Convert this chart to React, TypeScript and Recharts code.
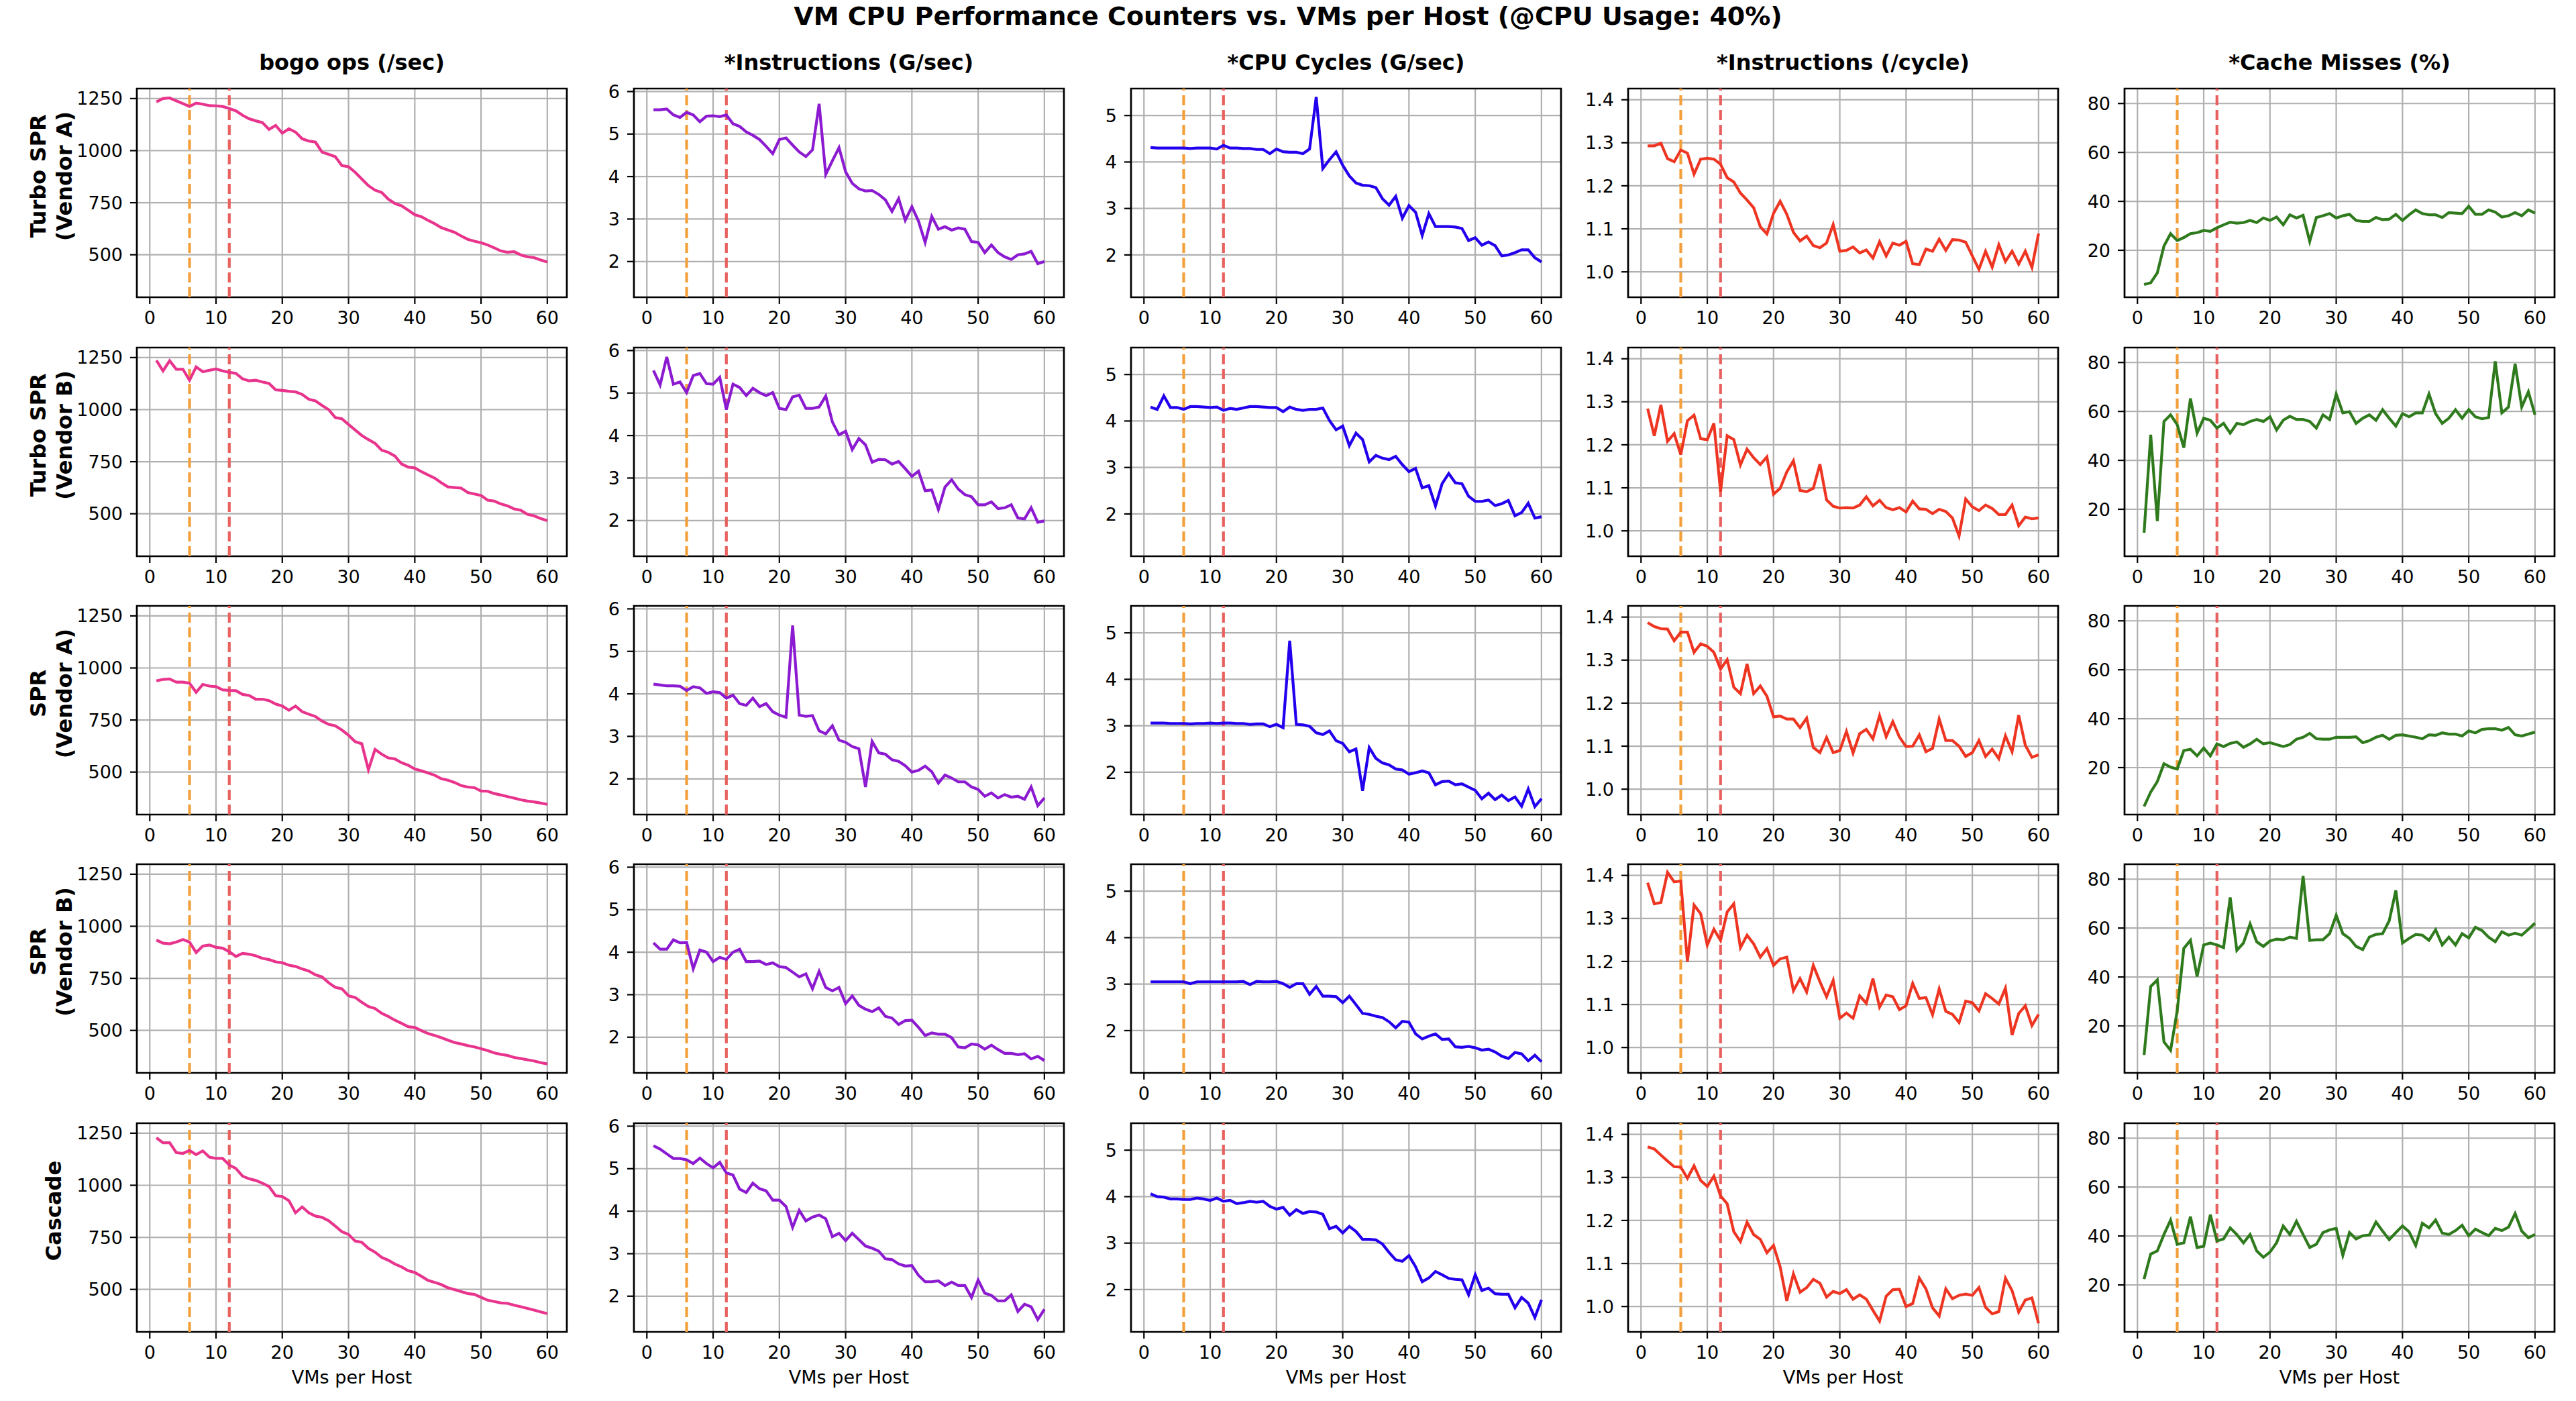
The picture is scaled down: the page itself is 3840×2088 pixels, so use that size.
import React from "react";
import {
  LineChart,
  Line,
  XAxis,
  YAxis,
  CartesianGrid,
  ReferenceLine,
  ReferenceArea,
} from "recharts";

// x axis: number of VMs per host
const VMS_PER_HOST = [
  1, 2, 3, 4, 5, 6, 7, 8, 9, 10, 11, 12, 13, 14, 15, 16, 17, 18, 19, 20,
  21, 22, 23, 24, 25, 26, 27, 28, 29, 30, 31, 32, 33, 34, 35, 36, 37, 38, 39, 40,
  41, 42, 43, 44, 45, 46, 47, 48, 49, 50, 51, 52, 53, 54, 55, 56, 57, 58, 59, 60,
];

// Turbo SPR (Vendor A)
const TSPR_A_BOGO = [
  1234, 1250, 1253, 1239, 1226, 1212, 1228, 1223, 1216, 1215,
  1212, 1202, 1191, 1170, 1153, 1143, 1135, 1102, 1121, 1084,
  1105, 1089, 1057, 1046, 1041, 993, 982, 971, 928, 923,
  896, 864, 832, 810, 799, 767, 746, 735, 714, 692,
  683, 665, 649, 630, 619, 608, 590, 574, 565, 558,
  547, 533, 518, 512, 515, 499, 490, 486, 475, 465,
];
const TSPR_A_INSTR = [
  5.57, 5.57, 5.59, 5.45, 5.39, 5.51, 5.45, 5.29, 5.42, 5.43,
  5.41, 5.45, 5.24, 5.18, 5.05, 4.97, 4.87, 4.71, 4.54, 4.87,
  4.91, 4.74, 4.58, 4.47, 4.63, 5.71, 4.05, 4.37, 4.68, 4.11,
  3.84, 3.71, 3.66, 3.67, 3.58, 3.45, 3.18, 3.48, 2.97, 3.29,
  2.95, 2.45, 3.06, 2.76, 2.82, 2.74, 2.79, 2.76, 2.47, 2.45,
  2.21, 2.39, 2.21, 2.11, 2.05, 2.16, 2.18, 2.24, 1.95, 2.0,
];
const TSPR_A_CYCLES = [
  4.31, 4.3, 4.3, 4.3, 4.3, 4.3, 4.29, 4.3, 4.3, 4.3,
  4.28, 4.36, 4.3, 4.3, 4.29, 4.29, 4.27, 4.27, 4.18, 4.28,
  4.22, 4.21, 4.21, 4.18, 4.28, 5.4, 3.86, 4.05, 4.22, 3.93,
  3.7, 3.55, 3.5, 3.49, 3.45, 3.21, 3.07, 3.26, 2.79, 3.06,
  2.92, 2.42, 2.89, 2.61, 2.61, 2.61, 2.6, 2.57, 2.31, 2.37,
  2.21, 2.28, 2.2, 1.98, 2.0, 2.05, 2.11, 2.11, 1.94, 1.85,
];
const TSPR_A_IPC = [
  1.293, 1.293, 1.299, 1.263, 1.256, 1.283, 1.276, 1.227, 1.262, 1.264,
  1.262, 1.25, 1.219, 1.209, 1.183, 1.167, 1.149, 1.105, 1.088, 1.136,
  1.164, 1.134, 1.092, 1.072, 1.083, 1.061, 1.056, 1.067, 1.11, 1.048,
  1.05, 1.058, 1.044, 1.051, 1.032, 1.07, 1.037, 1.067, 1.062, 1.071,
  1.019, 1.017, 1.053, 1.048, 1.076, 1.05, 1.075, 1.074, 1.069, 1.037,
  1.006, 1.048, 1.011, 1.063, 1.024, 1.048, 1.018, 1.048, 1.01, 1.089,
];
const TSPR_A_CACHE = [
  6.0, 6.7, 10.8, 21.7, 26.8, 24.0, 25.2, 26.8, 27.2, 28.1,
  27.7, 29.2, 30.4, 31.5, 31.1, 31.3, 32.2, 31.3, 33.2, 32.2,
  33.6, 30.4, 34.5, 33.2, 34.3, 23.6, 33.4, 34.1, 35.0, 33.2,
  34.1, 34.7, 32.2, 31.8, 31.8, 33.4, 32.5, 32.7, 34.7, 32.2,
  34.5, 36.5, 35.0, 34.5, 34.5, 33.4, 35.4, 35.2, 35.0, 38.0,
  34.7, 34.7, 36.5, 35.6, 33.6, 34.1, 35.4, 34.1, 36.5, 35.2,
];

// Turbo SPR (Vendor B)
const TSPR_B_BOGO = [
  1236, 1186, 1235, 1194, 1194, 1141, 1205, 1182, 1189, 1195,
  1186, 1179, 1174, 1148, 1138, 1141, 1133, 1126, 1095, 1092,
  1088, 1085, 1073, 1050, 1042, 1020, 1000, 962, 956, 929,
  902, 876, 856, 838, 805, 795, 777, 739, 724, 720,
  702, 686, 671, 649, 629, 626, 623, 602, 595, 588,
  565, 561, 547, 538, 523, 517, 497, 490, 477, 467,
];
const TSPR_B_INSTR = [
  5.53, 5.19, 5.85, 5.21, 5.26, 5.01, 5.41, 5.46, 5.22, 5.21,
  5.37, 4.61, 5.21, 5.13, 4.94, 5.11, 5.01, 4.94, 5.01, 4.64,
  4.61, 4.91, 4.95, 4.64, 4.64, 4.67, 4.93, 4.32, 4.02, 4.1,
  3.67, 3.93, 3.78, 3.37, 3.44, 3.43, 3.33, 3.39, 3.22, 3.04,
  3.16, 2.7, 2.72, 2.26, 2.79, 2.96, 2.74, 2.61, 2.56, 2.37,
  2.37, 2.44, 2.28, 2.3, 2.37, 2.06, 2.04, 2.3, 1.96, 1.99,
];
const TSPR_B_CYCLES = [
  4.3, 4.25, 4.54, 4.29, 4.29, 4.25, 4.31, 4.31, 4.3, 4.29,
  4.3, 4.23, 4.27, 4.25, 4.28, 4.31, 4.31, 4.3, 4.29, 4.29,
  4.2, 4.3, 4.25, 4.23, 4.25, 4.25, 4.28, 4.01, 3.81, 3.89,
  3.47, 3.74, 3.6, 3.12, 3.26, 3.2, 3.17, 3.24, 3.06, 2.91,
  2.98, 2.56, 2.61, 2.17, 2.65, 2.87, 2.67, 2.65, 2.38, 2.27,
  2.27, 2.3, 2.18, 2.22, 2.29, 1.96, 2.03, 2.23, 1.91, 1.94,
];
const TSPR_B_IPC = [
  1.284, 1.221, 1.293, 1.208, 1.226, 1.177, 1.256, 1.269, 1.214, 1.212,
  1.25, 1.091, 1.221, 1.212, 1.153, 1.19, 1.17, 1.154, 1.172, 1.085,
  1.099, 1.137, 1.163, 1.094, 1.091, 1.099, 1.155, 1.072, 1.057, 1.053,
  1.054, 1.053, 1.06, 1.079, 1.058, 1.071, 1.054, 1.049, 1.054, 1.044,
  1.069, 1.051, 1.05, 1.04, 1.05, 1.045, 1.03, 0.988, 1.074, 1.056,
  1.047, 1.06, 1.052, 1.038, 1.038, 1.06, 1.012, 1.032, 1.028, 1.03,
];
const TSPR_B_CACHE = [
  10.4, 50.5, 15.2, 55.9, 58.6, 54.6, 45.2, 65.3, 51.1, 57.2,
  56.4, 53.2, 55.1, 51.1, 55.1, 54.6, 55.9, 56.7, 55.9, 57.8,
  52.4, 56.4, 58.0, 56.7, 56.7, 55.9, 53.2, 58.6, 56.7, 67.1,
  59.4, 59.9, 55.1, 57.2, 58.6, 56.4, 60.7, 57.2, 54.0, 59.1,
  57.8, 59.4, 59.4, 67.1, 59.1, 55.1, 57.2, 60.7, 57.2, 60.7,
  57.8, 57.0, 57.5, 80.5, 59.4, 61.8, 79.5, 61.8, 68.0, 58.6,
];

// SPR (Vendor A)
const SPR_A_BOGO = [
  938, 945, 947, 932, 932, 927, 883, 921, 913, 910,
  895, 892, 891, 873, 868, 850, 850, 843, 827, 817,
  797, 817, 790, 778, 767, 745, 729, 722, 702, 677,
  646, 636, 511, 609, 586, 568, 563, 545, 533, 515,
  506, 496, 485, 468, 461, 450, 435, 428, 425, 409,
  408, 397, 390, 382, 375, 367, 361, 357, 351, 345,
];
const SPR_A_INSTR = [
  4.23, 4.21, 4.19, 4.19, 4.18, 4.08, 4.17, 4.14, 4.01, 4.05,
  4.03, 3.9, 3.97, 3.77, 3.73, 3.9, 3.7, 3.77, 3.58, 3.5,
  3.45, 5.61, 3.5, 3.47, 3.49, 3.13, 3.06, 3.25, 2.91, 2.86,
  2.76, 2.71, 1.81, 2.88, 2.61, 2.58, 2.45, 2.41, 2.31, 2.16,
  2.2, 2.3, 2.17, 1.9, 2.09, 2.02, 1.93, 1.93, 1.81, 1.75,
  1.59, 1.67, 1.55, 1.63, 1.57, 1.59, 1.52, 1.81, 1.37, 1.55,
];
const SPR_A_CYCLES = [
  3.06, 3.06, 3.06, 3.05, 3.05, 3.05, 3.04, 3.05, 3.05, 3.06,
  3.05, 3.06, 3.06, 3.05, 3.05, 3.03, 3.04, 3.04, 2.98, 3.03,
  2.96, 4.83, 3.03, 3.02, 2.99, 2.85, 2.81, 2.89, 2.68, 2.62,
  2.44, 2.5, 1.6, 2.53, 2.3, 2.2, 2.16, 2.07, 2.05, 1.96,
  1.99, 2.03, 1.99, 1.73, 1.8, 1.81, 1.73, 1.75, 1.68, 1.61,
  1.43, 1.55, 1.41, 1.51, 1.39, 1.47, 1.27, 1.64, 1.26, 1.43,
];
const SPR_A_IPC = [
  1.387, 1.378, 1.373, 1.372, 1.345, 1.365, 1.365, 1.318, 1.338, 1.332,
  1.318, 1.279, 1.301, 1.237, 1.222, 1.291, 1.222, 1.24, 1.216, 1.168,
  1.17, 1.163, 1.163, 1.143, 1.165, 1.097, 1.085, 1.12, 1.085, 1.09,
  1.134, 1.084, 1.129, 1.139, 1.117, 1.171, 1.122, 1.157, 1.121, 1.099,
  1.1, 1.126, 1.087, 1.095, 1.163, 1.113, 1.113, 1.1, 1.076, 1.085,
  1.113, 1.076, 1.093, 1.071, 1.124, 1.087, 1.172, 1.102, 1.074, 1.08,
];
const SPR_A_CACHE = [
  4.1, 10.0, 14.3, 21.6, 20.2, 19.4, 27.0, 27.5, 24.8, 28.0,
  24.8, 29.7, 28.6, 29.9, 30.5, 28.3, 29.7, 31.6, 29.7, 30.2,
  29.4, 28.6, 29.4, 31.6, 32.4, 34.0, 31.8, 31.6, 31.6, 32.4,
  32.4, 32.4, 32.6, 30.2, 31.0, 32.4, 33.2, 31.6, 33.2, 33.4,
  32.9, 32.4, 31.8, 33.4, 33.2, 34.2, 33.7, 33.7, 32.9, 35.0,
  34.2, 35.6, 35.9, 35.9, 35.3, 36.4, 33.4, 32.9, 33.7, 34.5,
];

// SPR (Vendor B)
const SPR_B_BOGO = [
  934, 919, 916, 924, 936, 924, 874, 905, 910, 899,
  895, 878, 855, 870, 866, 858, 846, 840, 829, 825,
  813, 807, 795, 785, 767, 757, 729, 707, 700, 666,
  658, 635, 615, 605, 582, 567, 549, 534, 518, 514,
  499, 485, 476, 465, 453, 442, 435, 427, 421, 412,
  403, 392, 385, 380, 370, 365, 359, 353, 345, 339,
];
const SPR_B_INSTR = [
  4.22, 4.07, 4.07, 4.29, 4.22, 4.23, 3.61, 4.05, 4.0, 3.78,
  3.88, 3.83, 4.0, 4.07, 3.78, 3.78, 3.79, 3.71, 3.75, 3.66,
  3.64, 3.53, 3.42, 3.49, 3.14, 3.55, 3.17, 3.09, 3.17, 2.79,
  2.97, 2.75, 2.66, 2.6, 2.69, 2.49, 2.45, 2.3, 2.39, 2.4,
  2.23, 2.04, 2.1, 2.07, 2.07, 1.99, 1.77, 1.75, 1.84, 1.82,
  1.72, 1.81, 1.71, 1.62, 1.62, 1.59, 1.61, 1.49, 1.55, 1.45,
];
const SPR_B_CYCLES = [
  3.05, 3.05, 3.05, 3.05, 3.05, 3.05, 3.01, 3.05, 3.05, 3.05,
  3.05, 3.05, 3.05, 3.05, 3.06, 2.99, 3.06, 3.05, 3.05, 3.06,
  3.01, 2.93, 3.01, 3.01, 2.78, 2.95, 2.74, 2.74, 2.73, 2.6,
  2.74, 2.56, 2.37, 2.35, 2.31, 2.28, 2.19, 2.06, 2.2, 2.18,
  1.93, 1.82, 1.88, 1.93, 1.81, 1.82, 1.65, 1.64, 1.66, 1.63,
  1.58, 1.6, 1.54, 1.45, 1.4, 1.53, 1.5, 1.35, 1.47, 1.33,
];
const SPR_B_IPC = [
  1.383, 1.334, 1.337, 1.407, 1.385, 1.387, 1.199, 1.331, 1.311, 1.238,
  1.275, 1.249, 1.315, 1.334, 1.232, 1.261, 1.241, 1.21, 1.23, 1.191,
  1.206, 1.21, 1.132, 1.16, 1.129, 1.191, 1.153, 1.118, 1.156, 1.068,
  1.08, 1.068, 1.12, 1.103, 1.16, 1.094, 1.122, 1.118, 1.088, 1.097,
  1.149, 1.114, 1.116, 1.076, 1.136, 1.084, 1.077, 1.058, 1.108, 1.104,
  1.085, 1.125, 1.114, 1.101, 1.138, 1.029, 1.079, 1.097, 1.051, 1.077,
];
const SPR_B_CACHE = [
  8.1, 36.1, 38.8, 13.5, 10.0, 26.2, 51.7, 55.0, 40.2, 53.1,
  53.9, 53.1, 52.0, 72.5, 50.9, 53.9, 61.7, 54.4, 52.5, 54.7,
  55.5, 55.2, 56.3, 55.8, 81.3, 55.0, 55.2, 55.2, 57.7, 65.2,
  57.7, 55.8, 52.5, 51.2, 56.3, 57.4, 57.7, 63.0, 75.4, 53.9,
  55.8, 57.4, 57.1, 55.0, 59.3, 53.1, 56.3, 53.1, 57.7, 56.0,
  60.3, 59.0, 56.3, 54.4, 58.5, 57.1, 57.9, 57.1, 59.5, 62.0,
];

// Cascade
const CASCADE_BOGO = [
  1228, 1204, 1204, 1157, 1153, 1167, 1147, 1165, 1135, 1129,
  1129, 1097, 1081, 1044, 1031, 1023, 1010, 994, 950, 946,
  926, 868, 896, 868, 852, 846, 830, 804, 777, 764,
  732, 726, 697, 679, 654, 640, 622, 608, 590, 581,
  563, 543, 534, 523, 508, 499, 489, 480, 476, 462,
  448, 442, 435, 433, 424, 417, 409, 401, 392, 384,
];
const CASCADE_INSTR = [
  5.54, 5.46, 5.35, 5.24, 5.24, 5.21, 5.12, 5.25, 5.12, 5.02,
  5.15, 4.9, 4.85, 4.52, 4.44, 4.66, 4.53, 4.48, 4.26, 4.26,
  4.11, 3.62, 4.02, 3.77, 3.86, 3.91, 3.82, 3.4, 3.48, 3.31,
  3.48, 3.33, 3.18, 3.13, 3.06, 2.88, 2.86, 2.76, 2.71, 2.72,
  2.49, 2.34, 2.34, 2.36, 2.25, 2.33, 2.25, 2.25, 1.97, 2.38,
  2.07, 2.02, 1.89, 1.89, 2.03, 1.64, 1.81, 1.75, 1.45, 1.69,
];
const CASCADE_CYCLES = [
  4.06, 4.0, 3.99, 3.95, 3.95, 3.94, 3.94, 3.97, 3.95, 3.92,
  3.97, 3.9, 3.92, 3.85, 3.87, 3.9, 3.88, 3.9, 3.79, 3.73,
  3.77, 3.6, 3.72, 3.64, 3.68, 3.67, 3.62, 3.31, 3.36, 3.22,
  3.36, 3.25, 3.08, 3.08, 3.07, 2.98, 2.8, 2.64, 2.61, 2.73,
  2.49, 2.17, 2.25, 2.39, 2.32, 2.24, 2.22, 2.21, 1.89, 2.32,
  1.98, 2.03, 1.91, 1.9, 1.9, 1.61, 1.83, 1.71, 1.4, 1.78,
];
const CASCADE_IPC = [
  1.371, 1.366, 1.352, 1.338, 1.325, 1.324, 1.298, 1.327, 1.293, 1.279,
  1.303, 1.257, 1.239, 1.174, 1.151, 1.196, 1.167, 1.156, 1.125, 1.142,
  1.092, 1.013, 1.076, 1.033, 1.044, 1.063, 1.054, 1.022, 1.035, 1.03,
  1.039, 1.017, 1.027, 1.017, 0.991, 0.966, 1.024, 1.039, 1.04, 1.0,
  1.007, 1.066, 1.041, 0.997, 0.978, 1.041, 1.018, 1.026, 1.029, 1.026,
  1.044, 0.998, 0.983, 0.988, 1.066, 1.037, 0.987, 1.015, 1.02, 0.961,
];
const CASCADE_CACHE = [
  22.4, 32.6, 33.9, 40.6, 46.5, 36.6, 37.2, 47.9, 35.3, 35.8,
  48.7, 38.0, 38.8, 43.3, 40.6, 37.2, 40.6, 33.9, 31.3, 33.4,
  37.2, 44.1, 40.6, 46.0, 40.6, 35.3, 36.6, 41.4, 42.5, 43.1,
  32.1, 41.4, 38.8, 40.1, 40.4, 45.7, 42.0, 38.5, 41.4, 44.1,
  41.7, 36.1, 45.2, 43.3, 46.5, 41.2, 40.6, 42.2, 44.4, 40.1,
  42.8, 41.4, 40.1, 43.1, 42.2, 43.6, 49.2, 42.0, 39.3, 40.6,
];

const ROW_LABELS = [
  ["Turbo SPR", "(Vendor A)"],
  ["Turbo SPR", "(Vendor B)"],
  ["SPR", "(Vendor A)"],
  ["SPR", "(Vendor B)"],
  ["Cascade"],
];
const ROW_SERIES = [
  [TSPR_A_BOGO, TSPR_A_INSTR, TSPR_A_CYCLES, TSPR_A_IPC, TSPR_A_CACHE],
  [TSPR_B_BOGO, TSPR_B_INSTR, TSPR_B_CYCLES, TSPR_B_IPC, TSPR_B_CACHE],
  [SPR_A_BOGO, SPR_A_INSTR, SPR_A_CYCLES, SPR_A_IPC, SPR_A_CACHE],
  [SPR_B_BOGO, SPR_B_INSTR, SPR_B_CYCLES, SPR_B_IPC, SPR_B_CACHE],
  [CASCADE_BOGO, CASCADE_INSTR, CASCADE_CYCLES, CASCADE_IPC, CASCADE_CACHE],
];

const METRIC_TITLES = [
  "bogo ops (/sec)",
  "*Instructions (G/sec)",
  "*CPU Cycles (G/sec)",
  "*Instructions (/cycle)",
  "*Cache Misses (%)",
];
const METRIC_COLORS = ["#e8348c", "#8b1ad0", "#2200ee", "#ee3522", "#2e7a1c"];
const METRIC_DOMAINS = [
  [296, 1298],
  [1.16, 6.07],
  [1.09, 5.58],
  [0.941, 1.426],
  [0.8, 86.1],
];
const METRIC_TICKS = [
  [500, 750, 1000, 1250],
  [2, 3, 4, 5, 6],
  [2, 3, 4, 5],
  [1.0, 1.1, 1.2, 1.3, 1.4],
  [20, 40, 60, 80],
];
const METRIC_DECIMALS = [0, 0, 0, 1, 0];

const X_TICKS = [0, 10, 20, 30, 40, 50, 60];
const X_DOMAIN = [-1.95, 62.95];
const MARKER_VMS = [6, 12];
const MARKER_COLORS = ["#f3a03c", "#e8615f"];

const FONT = "DejaVu Sans";
const PLOT_LEFTS = [204, 945, 1686, 2427, 3167];
const PLOT_TOPS = [132, 518, 903, 1288, 1674];
const PLOT_W = 641;
const PLOT_H = 311;
const Y_AXIS_W = 110;
const X_AXIS_H = 60;
const TOP_PAD = 10;
const RIGHT_PAD = 10;

type PanelProps = {
  values: number[];
  color: string;
  domain: number[];
  ticks: number[];
  decimals: number;
  left: number;
  top: number;
};

const Panel: React.FC<PanelProps> = ({ values, color, domain, ticks, decimals, left, top }) => {
  const data = VMS_PER_HOST.map((vms, i) => ({ vms, value: values[i] }));
  const tickStyle = { fontSize: 27, fill: "#000", fontFamily: FONT };

  return (
    <div style={{ position: "absolute", left: left - Y_AXIS_W, top: top - TOP_PAD }}>
      <LineChart
        width={Y_AXIS_W + PLOT_W + RIGHT_PAD}
        height={TOP_PAD + PLOT_H + X_AXIS_H}
        data={data}
        margin={{ top: TOP_PAD, right: RIGHT_PAD, bottom: 0, left: 0 }}
      >
        <CartesianGrid stroke="#b0b0b0" strokeWidth={2.2} />
        <XAxis
          dataKey="vms"
          type="number"
          domain={X_DOMAIN}
          ticks={X_TICKS}
          interval={0}
          allowDataOverflow
          height={X_AXIS_H}
          axisLine={false}
          tickLine={{ stroke: "#000", strokeWidth: 2.2 }}
          tickSize={10}
          tickMargin={11}
          tick={tickStyle}
        />
        <YAxis
          type="number"
          domain={domain}
          ticks={ticks}
          interval={0}
          allowDataOverflow
          width={Y_AXIS_W}
          axisLine={false}
          tickLine={{ stroke: "#000", strokeWidth: 2.2 }}
          tickSize={10}
          tickMargin={11}
          tick={tickStyle}
          tickFormatter={(v: number) => v.toFixed(decimals)}
        />
        {MARKER_VMS.map((vms, i) => (
          <ReferenceLine
            key={vms}
            x={vms}
            stroke={MARKER_COLORS[i]}
            strokeWidth={4.2}
            strokeDasharray="15 7"
          />
        ))}
        <Line
          type="linear"
          dataKey="value"
          stroke={color}
          strokeWidth={4.2}
          dot={false}
          activeDot={false}
          isAnimationActive={false}
        />
        {/* axes frame */}
        <ReferenceArea
          x1={X_DOMAIN[0]}
          x2={X_DOMAIN[1]}
          y1={domain[0]}
          y2={domain[1]}
          fill="none"
          fillOpacity={0}
          stroke="#000"
          strokeWidth={2.7}
          ifOverflow="visible"
        />
      </LineChart>
    </div>
  );
};

const App: React.FC = () => {
  return (
    <div
      style={{
        position: "absolute",
        left: 0,
        top: 0,
        width: 3840,
        height: 2088,
        background: "#fff",
        fontFamily: FONT,
      }}
    >
      <svg
        width={3840}
        height={2088}
        style={{ position: "absolute", left: 0, top: 0, pointerEvents: "none" }}
        fontFamily={FONT}
      >
        <text x={1920} y={37} textAnchor="middle" fontSize={38} fontWeight="bold" fill="#000">
          VM CPU Performance Counters vs. VMs per Host (@CPU Usage: 40%)
        </text>
        {METRIC_TITLES.map((title, c) => (
          <text
            key={title}
            x={PLOT_LEFTS[c] + PLOT_W / 2}
            y={104}
            textAnchor="middle"
            fontSize={32}
            fontWeight="bold"
            fill="#000"
          >
            {title}
          </text>
        ))}
        {ROW_LABELS.map((lines, r) => {
          const cy = PLOT_TOPS[r] + PLOT_H / 2 - 25;
          const baselines = lines.length === 2 ? [68, 107] : [91];
          return lines.map((line, k) => (
            <text
              key={`${r}-${k}`}
              transform={`translate(${baselines[k]}, ${cy}) rotate(-90)`}
              textAnchor="middle"
              fontSize={32}
              fontWeight="bold"
              fill="#000"
            >
              {line}
            </text>
          ));
        })}
        {PLOT_LEFTS.map((left) => (
          <text
            key={left}
            x={left + PLOT_W / 2}
            y={2062}
            textAnchor="middle"
            fontSize={27}
            fill="#000"
          >
            VMs per Host
          </text>
        ))}
      </svg>
      {ROW_SERIES.map((series, r) =>
        series.map((values, c) => (
          <Panel
            key={`${r}-${c}`}
            values={values}
            color={METRIC_COLORS[c]}
            domain={METRIC_DOMAINS[c]}
            ticks={METRIC_TICKS[c]}
            decimals={METRIC_DECIMALS[c]}
            left={PLOT_LEFTS[c]}
            top={PLOT_TOPS[r]}
          />
        ))
      )}
    </div>
  );
};

export default App;
